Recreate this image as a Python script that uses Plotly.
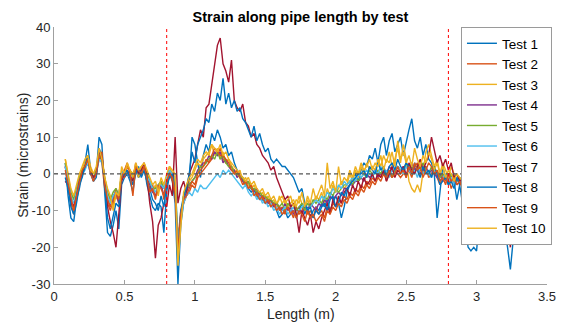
import numpy as np
import plotly.graph_objects as go

# sample positions along the pipe (m): 0.08 .. 3.40 every 0.02 m
length_m = np.round(np.arange(0.08, 3.4001, 0.02), 2)

test1 = [3, -6, -12, -13, -7, -4, 0, 3, 8, 1,
         -1, 0, 10, 8, -5, -16, -17, -14, -10, -15,
         -3, -1, 0, -2, -5, 1, -1, 0, 2, -3,
         -6, -9, -10, -8, -9, -16, -5, 0, -2, -8,
         -30, -14, -8, -5, -2, 10, 8, 3, -1, 5,
         8, 6, 11, 9, 12, 10, 7, 8, 5, 6,
         3, 1, 0, -1, -3, -4, -5, -4, -6, -7,
         -7, -8, -7, -9, -8, -10, -12, -11, -10, -12,
         -11, -10, -12, -10, -8, -11, -9, -12, -10, -9,
         -10, -8, -9, -7, -10, -8, -6, -8, -12, -9,
         -5, -3, -1, 0, -2, 1, 3, 2, 5, 4,
         7, 3, 8, 10, 5, 9, 11, 6, 8, 10,
         5, 9, 12, 15, 9, 7, 10, 5, 8, 4,
         3, 0, -12, -5, 2, -1, -3, 0, -2, -7,
         -3, -8, -15, -20, -21, -20, -21, -12, -6, -3,
         -2, -4, -1, -3, -5, -8, -15, -20, -26, -18,
         -8, -4, -2, -5, -10, -14, -19]

test2 = [2, -3, -8, -11, -6, -3, 1, 3, 5, 1,
         -2, 1, 6, 3, -4, -8, -10, -7, -4, -6,
         0, -1, 2, 1, -2, 3, 0, 2, 1, -2,
         -4, -3, -6, -5, -2, -7, -3, 1, -2, -6,
         -18, -10, -8, -6, -5, -3, -4, -1, 0, 1,
         2, 3, 4, 6, 5, 7, 4, 3, 4, 2,
         1, 0, -1, -2, -2, -4, -3, -5, -6, -5,
         -7, -6, -8, -7, -9, -8, -10, -9, -11, -9,
         -10, -12, -9, -11, -10, -8, -11, -10, -12, -9,
         -11, -10, -12, -9, -10, -8, -9, -7, -8, -6,
         -7, -5, -6, -4, -5, -3, -4, -2, -3, -1,
         -2, 0, -1, 1, -2, 0, -1, 1, 0, -1,
         0, 2, 1, -1, 2, 3, 1, 0, 2, -1,
         0, 2, -1, -3, 0, -2, -1, -4, -2, -1,
         -3, -2, -1, -4, -2, -3, -1, -2, -4, -2,
         -1, -3, -2, -4, -1, -2, -3, -2, -1, -3,
         -2, -3, -1, -2, -4, -2, -3]

test3 = [4, -1, -5, -7, -4, -1, 1, 3, 5, 2,
         0, 1, 6, 5, -1, -5, -7, -9, -6, -8,
         1, 0, 2, 1, 0, 2, -1, 2, 3, 0,
         -2, -5, -3, -6, -2, -4, -1, 2, 0, -1,
         -25, -13, -6, -4, -2, -1, 1, 3, 2, 4,
         5, 6, 8, 5, 7, 4, 6, 3, 4, 2,
         1, 0, 1, -2, -1, -3, -4, -3, -5, -6,
         -5, -7, -6, -8, -7, -9, -6, -8, -7, -9,
         -8, -7, -9, -6, -8, -10, -7, -9, -8, -6,
         -7, -5, -8, -4, -6, -3, -5, -4, -2, -4,
         -3, 0, -2, 1, -1, 2, 0, 3, 1, 2,
         1, 4, 2, 5, 3, 6, 2, 4, 7, 3,
         8, 4, -2, -4, -5, -3, -5, 0, 6, 8,
         5, 2, 4, 0, 3, 1, -1, 2, 0, -2,
         -1, -4, -8, -14, -17, -12, -5, -2, -3, -1,
         -2, -3, -1, -2, -4, -3, -2, -1, -3, -2,
         -1, -2, -3, -1, -2, -3, -2]

test4 = [2, -2, -7, -9, -5, -2, 0, 2, 3, 0,
         -1, 0, 4, 5, -2, -7, -9, -6, -5, -8,
         -1, 0, 1, -1, -1, 2, 0, 1, 1, -1,
         -3, -5, -6, -4, -3, -6, -2, 0, -1, -3,
         -20, -11, -7, -5, -3, -2, -1, 1, 2, 3,
         3, 5, 4, 6, 5, 6, 3, 4, 2, 1,
         1, -1, 0, -2, -3, -2, -4, -5, -4, -6,
         -6, -7, -8, -7, -9, -8, -9, -10, -8, -10,
         -9, -11, -10, -9, -11, -9, -10, -8, -9, -10,
         -8, -9, -7, -8, -6, -7, -6, -5, -6, -4,
         -4, -3, -3, -2, -2, -1, -2, 0, -1, 0,
         1, -1, 0, 1, 0, 2, 1, 0, 2, 1,
         2, 0, 1, 3, 1, 2, 0, 1, 2, 0,
         1, 0, -1, 0, -2, -1, 0, -2, -1, -3,
         -2, -3, -1, -2, -3, -2, -1, -3, -2, -1,
         -3, -2, -1, -2, -3, -1, -2, -3, -2, -1,
         -2, -3, -2, -1, -3, -2, -1]

test5 = [3, -1, -5, -7, -4, -1, 1, 2, 4, 1,
         -1, 1, 5, 4, -1, -5, -7, -5, -4, -6,
         0, 1, 0, 1, -1, 0, 1, 0, 2, 0,
         -2, -4, -4, -3, -2, -4, -1, 1, 0, -2,
         -18, -12, -6, -4, -3, -2, -1, 0, 2, 2,
         3, 4, 5, 4, 6, 4, 5, 3, 2, 2,
         0, 0, -1, -1, -3, -2, -4, -4, -5, -5,
         -6, -6, -7, -7, -8, -8, -9, -8, -10, -8,
         -9, -8, -10, -9, -8, -10, -8, -9, -7, -8,
         -7, -8, -6, -7, -5, -6, -4, -5, -4, -3,
         -3, -2, -3, -1, -2, -1, 0, -1, 1, 0,
         0, 1, 0, 2, 0, 1, -1, 1, 2, 1,
         1, 3, 1, 2, 0, 2, 1, 3, 1, 0,
         2, 0, 1, -1, 0, -1, -2, 0, -1, -2,
         -1, -2, -3, -1, -2, -1, -3, -2, -1, -2,
         -1, -2, -3, -1, -2, -2, -1, -3, -2, -1,
         -2, -1, -3, -2, -1, -2, -2]

test6 = [2, -2, -6, -8, -5, -2, 0, 1, 3, 0,
         -1, 0, 4, 3, -2, -6, -8, -6, -5, -6,
         0, 1, 0, -1, 0, 1, 0, 1, 1, -1,
         -2, -4, -5, -3, -3, -4, -1, 1, 0, -1,
         -19, -12, -8, -6, -5, -6, -4, -5, -3, -4,
         -4, -3, -2, -1, 0, -1, 1, 0, 1, 0,
         -1, -2, -3, -4, -3, -5, -6, -5, -7, -6,
         -8, -7, -9, -8, -10, -9, -11, -10, -9, -11,
         -10, -9, -11, -10, -9, -8, -10, -9, -8, -7,
         -8, -6, -7, -5, -6, -4, -5, -3, -4, -2,
         -3, -2, -1, -2, 0, -1, 0, 1, 0, -1,
         1, 0, 2, 0, 1, -1, 1, 0, 2, 1,
         0, 2, 1, 0, 1, -1, 2, 0, 1, 0,
         -1, 1, 0, -2, -1, 0, -2, -1, -3, -1,
         -2, -1, -3, -2, -1, -2, -3, -2, -1, -2,
         -2, -3, -1, -2, -1, -3, -2, -2, -1, -3,
         -1, -2, -3, -2, -1, -2, -3]

test7 = [-2, -3, -8, -9, -6, -2, 0, 2, 4, 1,
         -1, 0, 6, 4, -3, -9, -13, -16, -20, -12,
         -2, 0, 1, -1, -2, 2, 0, 1, 3, -1,
         -8, -13, -23, -14, -12, -8, -9, -3, -6, 10,
         -8, -4, -2, -5, 0, 2, 4, 8, 12, 10,
         18, 19, 24, 30, 35, 37, 30, 28, 25, 31,
         20, 18, 17, 19, 14, 13, 10, 11, 8, 7,
         5, 4, 3, 1, 2, -1, -3, -5, -7, -6,
         -9, -8, -11, -16, -10, -12, -14, -11, -16, -13,
         -15, -12, -10, -8, -11, -7, -9, -6, -8, -5,
         -4, -6, -3, -5, -2, -4, -1, -3, -2, 0,
         -2, 0, -1, 1, -2, 0, 2, -1, 1, 0,
         2, -1, 3, 1, 0, 2, 4, 1, 3, 5,
         10, 6, 3, 5, 2, 4, 1, 3, -1, 0,
         -2, -1, -3, -2, -4, -1, -3, -2, -4, -3,
         -2, -4, -3, -5, -3, -4, -8, -14, -20, -10,
         -4, -3, -5, -2, -4, -3, -2]

test8 = [-1, -4, -9, -11, -8, -3, -1, 2, 5, 0,
         -2, -1, 7, 5, -4, -12, -15, -11, -8, -9,
         -1, 0, 1, -1, -3, 0, 2, -1, 1, -2,
         -4, -7, -8, -10, -6, -9, -3, -1, 0, -4,
         -22, -10, -6, -4, 0, 6, 3, 8, 10, 12,
         15, 14, 19, 17, 22, 20, 26, 19, 22, 18,
         20, 17, 18, 15, 14, 12, 10, 13, 9, 11,
         8, 6, 7, 4, 3, 4, 3, 2, 2, 1,
         0, -1, -3, -5, -4, -8, -10, -9, -12, -10,
         -11, -9, -8, -10, -7, -6, -9, -8, -5, -6,
         -4, -3, -2, -1, 0, 0, 1, -1, 2, 1,
         0, 3, 1, 2, -1, 2, 3, 1, 4, 2,
         1, 3, 2, 0, 3, 1, -1, 2, 0, 1,
         -1, 2, 0, -3, -2, -1, -3, -2, -4, -1,
         -3, -2, -4, -3, -5, -2, -3, -4, -2, -3,
         -1, -3, -2, -4, -3, -2, -4, -3, -5, -2,
         -3, -2, -4, -3, -2, -3, -4]

test9 = [1, -3, -7, -10, -6, -2, 1, 2, 4, 0,
         -2, 0, 5, 6, -3, -7, -9, -8, -5, -7,
         -1, 1, 3, 0, -6, 2, 1, 0, 2, -1,
         -5, -4, -7, -3, -4, -6, -2, 0, -1, -5,
         -21, -11, -7, -6, -4, -2, -3, 0, 1, 2,
         4, 3, 5, 7, 6, 5, 5, 4, 3, 1,
         0, 1, -1, -3, -2, -4, -3, -6, -5, -7,
         -6, -8, -7, -9, -8, -10, -9, -11, -10, -9,
         -11, -10, -12, -10, -11, -13, -10, -12, -11, -13,
         -12, -11, -13, -10, -11, -9, -10, -8, -9, -7,
         -8, -6, -7, -5, -6, -4, -5, -3, -4, -2,
         -3, -1, -2, 0, -1, 1, -1, 0, 2, 0,
         1, -1, 2, 0, 3, 1, 2, -1, 1, 3,
         2, 0, 1, -2, -1, -3, 0, -2, -1, -3,
         -2, -4, -2, -3, -1, -2, -4, -3, -2, -1,
         -3, -2, -4, -1, -2, -3, -2, -4, -3, -2,
         -1, -3, -2, -4, -2, -3, -1]

test10 = [4, 0, -4, -6, -3, 0, 2, 4, 5, 1,
          0, 2, 7, 4, -1, -4, -6, -10, -5, -6,
          2, 0, 3, 1, -1, 3, 1, 2, 3, 1,
          -1, -3, -2, -5, -1, -3, 0, 2, 1, 0,
          -24, -14, -5, -3, -1, 0, 2, 4, 3, 5,
          6, 5, 8, 7, 6, 8, 5, 6, 4, 3,
          2, 1, 0, -1, -2, -1, -3, -2, -4, -5,
          -4, -6, -5, -7, -6, -8, -7, -6, -8, -7,
          -6, -9, -7, -8, -5, -9, -6, -8, -4, -7,
          -5, -3, -6, 3, -4, -2, -5, 2, -3, -1,
          -2, 1, -1, 2, 0, 3, 1, 2, 4, 1,
          3, 2, 5, 1, 4, 3, 6, 2, 9, 4,
          6, 3, 5, 2, 7, 4, 2, 5, 3, 6,
          4, 1, 3, 0, 2, -1, 1, 0, -2, 0,
          -1, -2, -1, -3, -2, -1, -2, -3, -1, -2,
          -2, -1, -3, -2, -1, -2, -3, -1, -2, -3,
          -1, -2, -3, -1, -2, -1, -2]

series_names = ["Test 1", "Test 2", "Test 3", "Test 4", "Test 5",
                "Test 6", "Test 7", "Test 8", "Test 9", "Test 10"]
series_values = [test1, test2, test3, test4, test5,
                 test6, test7, test8, test9, test10]
series_colors = ["#0072BD", "#D95319", "#EDB120", "#7E2F8E", "#77AC30",
                 "#4DBEEE", "#A2142F", "#0072BD", "#D95319", "#EDB120"]

support_positions = [0.8, 2.8]
x_ticks = [0, 0.5, 1, 1.5, 2, 2.5, 3, 3.5]
y_ticks = [-30, -20, -10, 0, 10, 20, 30, 40]

FONT = "Liberation Sans, Arial, Helvetica, sans-serif"

# The page body has an 8px default margin, so the figure is sized/offset to compensate.
FIG_W, FIG_H = 556, 316
ML, MR, MT, MB = 46, 13, 19, 40
PLOT_W = FIG_W - ML - MR
PLOT_H = FIG_H - MT - MB

fig = go.Figure()
for name, vals, col in zip(series_names, series_values, series_colors):
    fig.add_trace(go.Scatter(x=length_m, y=vals, mode="lines", name=name,
                             line=dict(color=col, width=1.4)))

# zero reference line and support markers
fig.add_shape(type="line", xref="x", yref="y", x0=0, x1=3.5, y0=0, y1=0,
              line=dict(color="#555555", width=1.2, dash="4px,3px"), layer="above")
for xp in support_positions:
    fig.add_shape(type="line", xref="x", yref="y", x0=xp, x1=xp, y0=-30, y1=40,
                  line=dict(color="#ff0000", width=1, dash="dot"), layer="above")

axis_common = dict(showgrid=False, zeroline=False, showline=True, automargin=False,
                   linecolor="#a0a0a0", linewidth=1, ticks="inside", ticklen=4,
                   tickcolor="#a0a0a0", tickfont=dict(family=FONT, size=13, color="#262626"),
                   mirror=False)

fig.update_layout(
    width=FIG_W, height=FIG_H,
    margin=dict(l=ML, r=MR, t=MT, b=MB),
    paper_bgcolor="white", plot_bgcolor="white",
    font=dict(family=FONT, color="#262626"),
    title=dict(text="<b>Strain along pipe length by test</b>", x=0.5, xref="paper",
               xanchor="center", y=1 - 8.5 / FIG_H, yref="container", yanchor="middle",
               font=dict(family=FONT, size=14.5, color="#000000")),
    xaxis=dict(range=[0, 3.5], tickvals=x_ticks, ticktext=[str(t) for t in x_ticks],
               **axis_common),
    yaxis=dict(range=[-30, 40], tickvals=y_ticks, ticktext=[str(t) for t in y_ticks],
               **axis_common),
    annotations=[
        dict(text="Length (m)", xref="paper", yref="paper", x=0.5, y=-(306 - (FIG_H - MB)) / PLOT_H,
             xanchor="center", yanchor="middle", showarrow=False,
             font=dict(family=FONT, size=14, color="#262626")),
        dict(text="Strain (microstrains)", xref="paper", yref="paper", x=(14 - ML) / PLOT_W, y=0.5,
             xanchor="center", yanchor="middle", textangle=-90, showarrow=False,
             font=dict(family=FONT, size=14, color="#262626")),
    ],
    showlegend=True,
    legend=dict(x=(548 - ML) / PLOT_W, xanchor="right", y=1, yanchor="top",
                bgcolor="white", bordercolor="#9a9a9a", borderwidth=1,
                font=dict(family=FONT, size=13.5, color="#000000"),
                itemwidth=30, tracegroupgap=0),
)

fig.write_html("out.html")
